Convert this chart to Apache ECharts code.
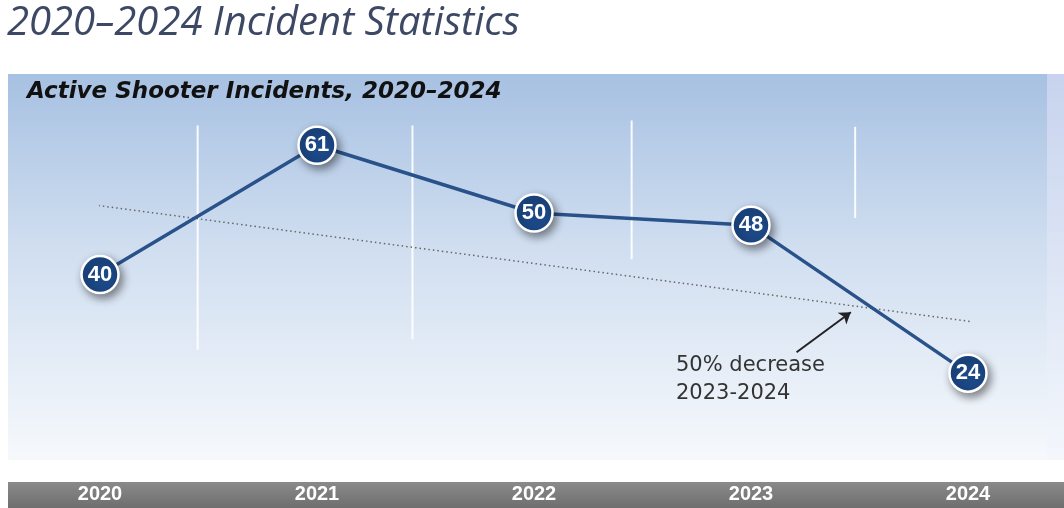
<!DOCTYPE html>
<html>
<head>
<meta charset="utf-8">
<script src="https://cdn.jsdelivr.net/npm/echarts@6/dist/echarts.min.js"></script>
<style>
  html, body { margin: 0; padding: 0; background: #fff; }
  #mychart { width: 1064px; height: 508px; }
</style>
</head>
<body>
<div id="mychart"></div>
<script>
  // data
  var years = ['2020', '2021', '2022', '2023', '2024']
  var incidents = [40, 61, 50, 48, 24]
  // dotted trend line end points: [year index, incidents]
  var trend = [[-0.09, 51.6], [4.03, 32.3]]
  // white divider lines between years: [year index, from, to]
  var dividers = [[0.45, 64.2, 27.8], [1.44, 64.2, 29.5], [2.45, 65, 42.5], [3.48, 64, 49.2]]
  // arrow of the annotation: tail and head
  var arrow = [[3.21, 27.4], [3.46, 33.9]]

  var numFont = "'Liberation Sans', Arial, sans-serif"

  var chart = echarts.init(document.getElementById('mychart'))

  var dividerSeries = dividers.map(function (d) {
    return {
      type: 'line',
      xAxisIndex: 1,
      symbol: 'none',
      silent: true,
      z: 1,
      lineStyle: { color: 'rgba(255,255,255,0.9)', width: 2 },
      data: [[d[0], d[1]], [d[0], d[2]]]
    }
  })

  chart.setOption({
    animation: false,
    grid: { left: 100, right: 96, top: 77.5, bottom: 48.6 },
    graphic: [
      {
        type: 'rect', z: -10, silent: true,
        shape: { x: 8, y: 74, width: 1039, height: 386 },
        style: {
          fill: new echarts.graphic.LinearGradient(0, 0, 0, 1, [
            { offset: 0, color: '#a7c1e2' },
            { offset: 0.45, color: '#d0def0' },
            { offset: 1, color: '#f6f9fc' }
          ])
        }
      },
      {
        type: 'rect', z: -10, silent: true,
        shape: { x: 1047, y: 74, width: 17, height: 386 },
        style: {
          fill: new echarts.graphic.LinearGradient(0, 0, 0, 1, [
            { offset: 0, color: '#c7d3ee' },
            { offset: 1, color: '#f3f7fc' }
          ])
        }
      },
      {
        type: 'rect', z: -10, silent: true,
        shape: { x: 8, y: 482, width: 1056, height: 26 },
        style: {
          fill: new echarts.graphic.LinearGradient(0, 0, 0, 1, [
            { offset: 0, color: '#8a8a8a' },
            { offset: 1, color: '#6e6e6e' }
          ])
        }
      },
      {
        type: 'text', left: 7, top: 4,
        style: {
          text: '2020\u20132024 Incident Statistics',
          fill: '#3c4864',
          font: 'italic 400 40px "Open Sans", sans-serif'
        }
      },
      {
        type: 'text', left: 27, top: 81,
        style: {
          text: 'Active Shooter Incidents, 2020\u20132024',
          fill: '#111',
          font: 'italic bold 23px "DejaVu Sans", sans-serif'
        }
      },
      {
        type: 'text', left: 676, top: 352,
        style: {
          text: '50% decrease\n2023-2024',
          fill: '#333',
          lineHeight: 28,
          font: '21px "DejaVu Sans", sans-serif'
        }
      }
    ],
    xAxis: [
      {
        type: 'category',
        boundaryGap: false,
        data: years,
        axisLine: { show: false },
        axisTick: { show: false },
        splitLine: { show: false },
        axisLabel: {
          color: '#fff',
          fontSize: 20,
          fontWeight: 'bold',
          fontFamily: numFont,
          margin: 25
        }
      },
      { type: 'value', min: 0, max: 4, show: false }
    ],
    yAxis: {
      type: 'value',
      min: 10,
      max: 72,
      show: false
    },
    series: dividerSeries.concat([
      {
        type: 'line',
        xAxisIndex: 1,
        symbol: 'none',
        silent: true,
        clip: false,
        z: 2,
        lineStyle: { color: '#666', width: 1.5, type: [1.5, 3] },
        data: trend,
        markLine: {
          silent: true,
          symbol: ['none', 'arrow'],
          symbolSize: 11,
          label: { show: false },
          lineStyle: { color: '#222', width: 2, type: 'solid' },
          data: [[{ coord: arrow[0] }, { coord: arrow[1] }]]
        }
      },
      {
        name: 'Active Shooter Incidents',
        type: 'line',
        z: 5,
        data: incidents,
        symbol: 'circle',
        symbolSize: 37,
        lineStyle: { color: '#2a528a', width: 3.5 },
        itemStyle: {
          color: '#1c4886',
          borderColor: '#fff',
          borderWidth: 2.5,
          shadowColor: 'rgba(0,0,0,0.45)',
          shadowBlur: 8,
          shadowOffsetX: 3,
          shadowOffsetY: 4
        },
        label: {
          show: true,
          position: 'inside',
          color: '#fff',
          fontSize: 22,
          fontWeight: 'bold',
          fontFamily: numFont
        }
      }
    ])
  })
</script>
</body>
</html>
